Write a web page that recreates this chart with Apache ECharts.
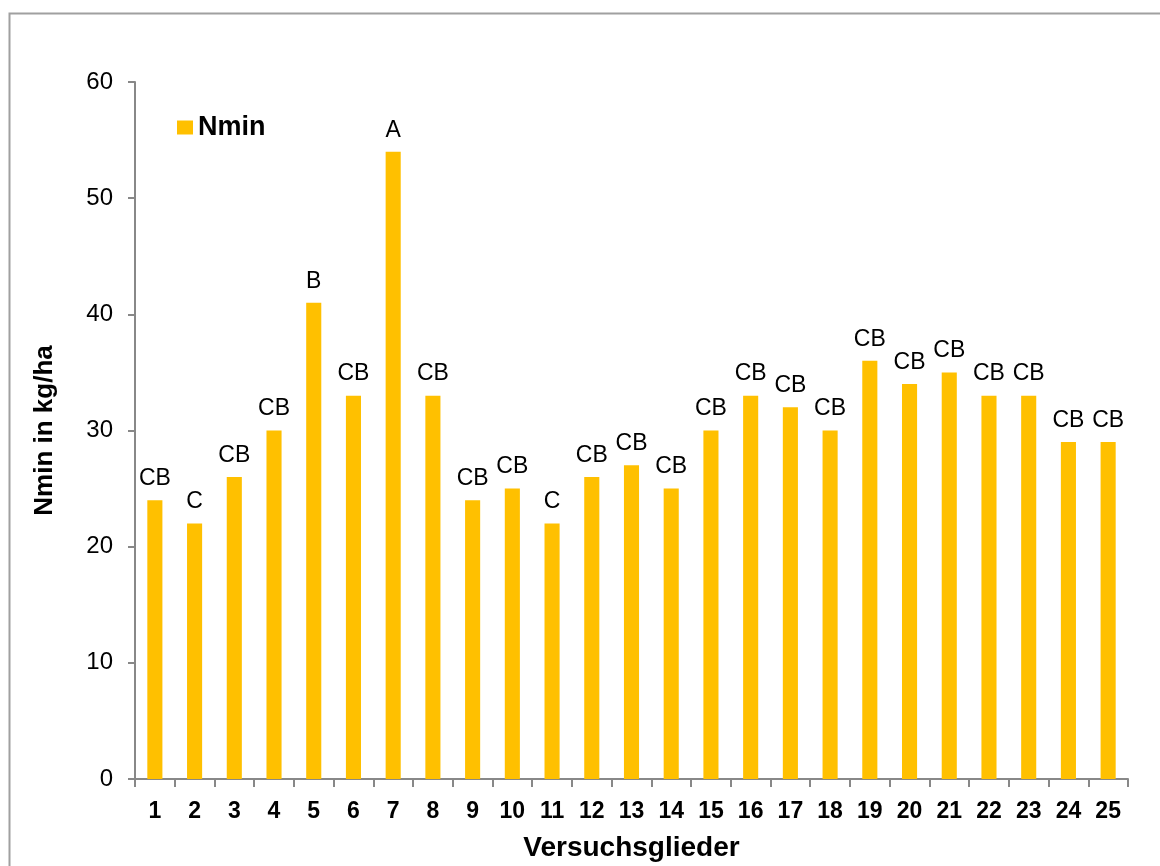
<!DOCTYPE html>
<html>
<head>
<meta charset="utf-8">
<script src="https://cdn.jsdelivr.net/npm/echarts@6/dist/echarts.min.js"></script>
<style>
    html, body { margin: 0; padding: 0; background: #fff; }
    #chart { width: 1160px; height: 866px; }
</style>
</head>
<body>
<div id="chart"></div>
<script>
const categories = ["1", "2", "3", "4", "5", "6", "7", "8", "9", "10", "11", "12", "13",
    "14", "15", "16", "17", "18", "19", "20", "21", "22", "23", "24", "25"];
const nminValues = [24, 22, 26, 30, 41, 33, 54, 33, 24, 25, 22, 26, 27,
    25, 30, 33, 32, 30, 36, 34, 35, 33, 33, 29, 29];
const letters = ["CB", "C", "CB", "CB", "B", "CB", "A", "CB", "CB", "CB", "C", "CB", "CB",
    "CB", "CB", "CB", "CB", "CB", "CB", "CB", "CB", "CB", "CB", "CB", "CB"];
const yTicks = [0, 10, 20, 30, 40, 50, 60];

const font = "Liberation Sans, Arial, sans-serif";
const axisGray = "#888888";

let myChart = echarts.init(document.getElementById("chart"));

let option = {
    animation: false,
    graphic: [
        {
            type: "rect",
            shape: { x: 9.5, y: 13.5, width: 1200, height: 900 },
            style: { fill: "none", stroke: "#a0a0a0", lineWidth: 2 }
        }
    ],
    legend: {
        left: 172,
        top: 109,
        itemWidth: 16,
        itemHeight: 14,
        itemGap: 6,
        icon: "rect",
        textStyle: {
            fontFamily: font,
            fontSize: 27,
            fontWeight: "bold",
            color: "#000"
        },
        data: ["Nmin"]
    },
    grid: {
        left: 135,
        right: 32,
        top: 82,
        bottom: 87,
        outerBoundsMode: "none"
    },
    xAxis: {
        type: "category",
        data: categories,
        name: "Versuchsglieder",
        nameLocation: "middle",
        nameGap: 55,
        nameTextStyle: {
            fontFamily: font,
            fontSize: 28,
            fontWeight: "bold",
            color: "#000"
        },
        axisLine: { lineStyle: { color: axisGray, width: 2 } },
        axisTick: { show: true, length: 8, lineStyle: { color: axisGray, width: 2 } },
        axisLabel: {
            fontFamily: font,
            fontSize: 23,
            fontWeight: "bold",
            color: "#000",
            margin: 21
        }
    },
    yAxis: {
        type: "value",
        min: 0,
        max: 60,
        interval: 10,
        name: "Nmin in kg/ha",
        nameLocation: "middle",
        nameGap: 77,
        nameTextStyle: {
            fontFamily: font,
            fontSize: 26,
            fontWeight: "bold",
            color: "#000"
        },
        axisLine: { show: true, lineStyle: { color: axisGray, width: 2 } },
        axisTick: { show: true, length: 7, lineStyle: { color: axisGray, width: 2 } },
        splitLine: { show: false },
        axisLabel: {
            fontFamily: font,
            fontSize: 24,
            color: "#000",
            margin: 22,
            formatter: function (v) { return yTicks.indexOf(v) >= 0 ? String(v) : ""; }
        }
    },
    series: [
        {
            name: "Nmin",
            type: "bar",
            barWidth: "38%",
            itemStyle: { color: "#FFC000" },
            label: {
                show: true,
                position: "top",
                distance: 10,
                fontFamily: font,
                fontSize: 23,
                color: "#000",
                formatter: function (p) { return letters[p.dataIndex]; }
            },
            data: nminValues
        }
    ]
};

myChart.setOption(option);
</script>
</body>
</html>
